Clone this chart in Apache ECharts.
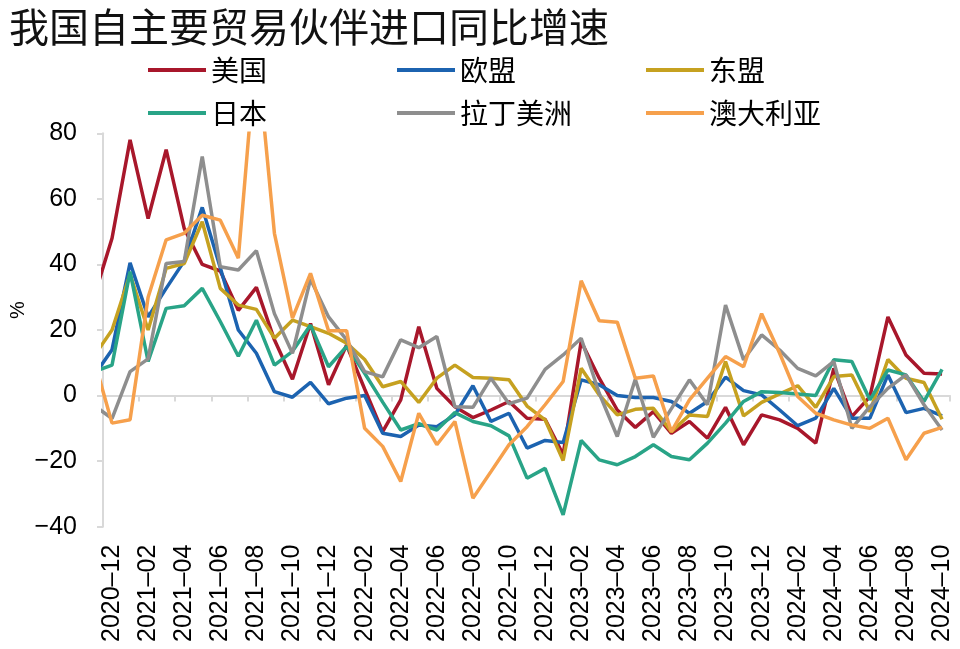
<!DOCTYPE html>
<html>
<head>
<meta charset="utf-8">
<script src="https://cdn.jsdelivr.net/npm/echarts@6/dist/echarts.min.js"></script>
<style>
html,body{margin:0;padding:0;background:#fff;}
#chart{width:960px;height:649px;}
</style>
</head>
<body>
<div id="chart"></div>
<script>
// Months (index 0 = 2020-11, only partly visible at the left edge)
var categories = ['2020-11','2020-12','2021-01','2021-02','2021-03','2021-04','2021-05','2021-06','2021-07','2021-08','2021-09','2021-10','2021-11','2021-12',
'2022-01','2022-02','2022-03','2022-04','2022-05','2022-06','2022-07','2022-08','2022-09','2022-10','2022-11','2022-12',
'2023-01','2023-02','2023-03','2023-04','2023-05','2023-06','2023-07','2023-08','2023-09','2023-10','2023-11','2023-12',
'2024-01','2024-02','2024-03','2024-04','2024-05','2024-06','2024-07','2024-08','2024-09','2024-10'];

var seriesNames = ['美国','欧盟','东盟','日本','拉丁美洲','澳大利亚'];

var usa = [30,48,78,54,75,51,40,38,26,33,17,5,22,3.3,15.4,2,-11,-1.3,21,2.2,-3.4,-6.7,-4.4,-1.8,-6.9,-7.2,-18,16.5,5.3,-4.4,-9.7,-4.9,-11.5,-7.9,-13,-3.6,-15,-5.9,-7.4,-10,-14.5,8.3,-6.4,-0.3,24,12.4,6.8,6.6];
var eu = [6,14,40.5,24,32.7,41,57.4,39,20,12.9,1.2,-0.5,4,-2.5,-0.8,0,-11.5,-12.5,-9,-9.5,-5.9,3,-7.9,-5.4,-16,-13.7,-14.3,4.8,3.3,0,-0.6,-0.6,-1.8,-5.4,-1.8,5.6,1.5,0.2,-4.4,-9.2,-6.9,2.2,-6.9,-6.9,6.3,-5.2,-3.9,-6.2];
var asean = [12,20,37,20,38.8,40.3,53,32.7,27.6,26.3,17.5,23,21,19,16,11,2.7,4.3,-2.1,5.3,9.3,5.5,5.3,4.8,-3.2,-7.4,-19.8,8.3,0.2,-5.9,-4.2,-3.9,-11,-5.9,-6.4,10.4,-6.2,-2.1,0.5,3,-3.6,5.8,6.3,-4.9,11,5.3,4,-7.2];
var japan = [7.3,9.3,37.8,10.4,26.6,27.4,32.7,22.6,12,23,9.3,13.5,21.5,8.8,15,6.8,-2,-10.5,-8.6,-10.5,-5.2,-7.9,-9.2,-12.3,-25.2,-22.2,-36.4,-13.7,-19.6,-21.1,-18.6,-15,-18.6,-19.6,-14.5,-8.4,-1.8,1.2,0.9,0.5,0,10.9,10.4,-1.3,7.8,6.3,-1.8,8];
var latam = [-3,-7,7.3,11.2,40.3,40.9,72.9,39.3,38.3,44.2,25,12.9,35.5,24,17,7.3,5.7,17,14.6,18,-3.4,-3.6,5.3,-2.5,-0.8,8,12.4,17.5,0.7,-12.5,5,-12.7,-4,4.8,-2.8,27.6,10.9,18.5,13.9,8.3,6,10.4,-10,-3.4,2.2,6.3,-2.8,-10.5];
var australia = [11,-8.4,-7.4,30,47.5,49.5,55,53.5,41.9,107,49.5,23.6,37.3,19.8,19.8,-10,-15.5,-26.2,-5.4,-15,-7.9,-31.3,-23.2,-15,-9.5,-2.8,4.3,35,22.8,22.4,5.3,6,-11,-1.3,5.3,11.9,8.8,25,12.9,-0.3,-5.4,-7.4,-9,-10,-6.9,-19.6,-11.5,-9.7];

var colors = ['#A8172B','#1C63B0','#C6A120','#29A487','#8E8E8E','#F6A04C'];
var allData = [usa, eu, asean, japan, latam, australia];

var labelIdx = [];
for (var i = 1; i < categories.length; i += 2) labelIdx.push(i);

function pairs(arr){ return arr.map(function(v,i){ return [i, v]; }); }

var series = seriesNames.map(function(name, k){
  return {
    name: name, type: 'line', xAxisIndex: 0, yAxisIndex: 0,
    data: pairs(allData[k]), symbol: 'none', clip: true,
    lineStyle: {width: 3.5, color: colors[k]}, itemStyle: {color: colors[k]}
  };
});

var cjk = '"Noto Sans CJK SC", sans-serif';
var latin = '"Liberation Sans", Arial, sans-serif';
var axisGray = '#D9D9D9';

var legendLeft = [148, 397, 646];
var legendTop = [56, 99];
var legends = seriesNames.map(function(name, k){
  return {
    left: legendLeft[k % 3], top: legendTop[Math.floor(k / 3)], padding: 0,
    itemWidth: 58, itemHeight: 4, icon: 'rect', data: [name],
    textStyle: {fontSize: 28, fontFamily: cjk, color: '#000'}
  };
});

var option = {
  animation: false,
  backgroundColor: '#fff',
  color: colors,
  title: {
    text: '我国自主要贸易伙伴进口同比增速', left: 4, top: 2,
    textStyle: {fontSize: 40, fontWeight: 'normal', fontFamily: cjk, color: '#111'}
  },
  legend: legends,
  grid: {left: 103, right: 10, top: 133.3, bottom: 122.3, containLabel: false},
  xAxis: [
    {
      type: 'value', min: 0.5, max: 47.44, position: 'bottom',
      axisLine: {show: false, onZero: false}, axisTick: {show: false}, splitLine: {show: false},
      axisLabel: {
        customValues: labelIdx, rotate: 90, margin: 18, fontSize: 25, fontFamily: latin, color: '#000',
        formatter: function(v){ var c = categories[Math.round(v)]; return c ? c.replace('-', '–') : ''; }
      }
    },
    {
      type: 'value', min: 0.5, max: 47.44, interval: 2, position: 'bottom',
      axisLine: {show: true, onZero: true, lineStyle: {color: axisGray, width: 2}},
      axisTick: {show: true, length: 6, lineStyle: {color: axisGray, width: 2}},
      axisLabel: {show: false}, splitLine: {show: false}
    }
  ],
  yAxis: {
    type: 'value', min: -40, max: 80, interval: 20,
    axisLine: {show: true, lineStyle: {color: axisGray, width: 2}},
    axisTick: {show: true, length: 6, lineStyle: {color: axisGray, width: 2}},
    splitLine: {show: false},
    axisLabel: {
      margin: 26, fontSize: 25, fontFamily: latin, color: '#000',
      formatter: function(v){ return v < 0 ? '−' + Math.abs(v) : String(v); }
    }
  },
  graphic: [{
    type: 'text', x: 18, y: 310, rotation: Math.PI / 2,
    style: {text: '%', fontSize: 20, fontFamily: latin, fill: '#000', align: 'center', verticalAlign: 'middle'}
  }],
  series: series
};

var chart = echarts.init(document.getElementById('chart'), null, {renderer: 'canvas'});
chart.setOption(option);
</script>
</body>
</html>
